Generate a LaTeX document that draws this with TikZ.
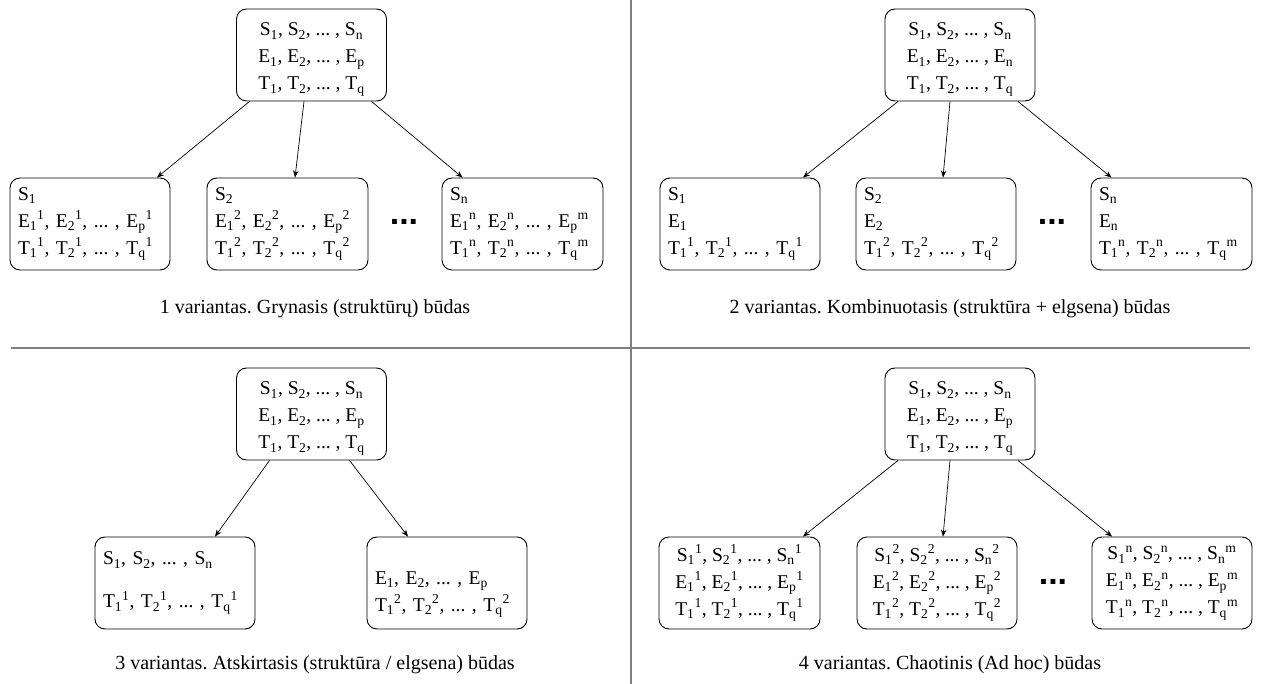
\documentclass[tikz,border=0pt]{standalone}
\usepackage{fontspec}
\setmainfont{Liberation Serif}
\newfontfamily\dotsfont{Liberation Sans}
\usetikzlibrary{arrows.meta,calc}
\frenchspacing
% index helpers: subscript only, subscript followed by superscript
\newcommand\idxl[2]{#1\textsubscript{#2}}
\newcommand\idxlh[3]{#1\textsubscript{#2}\textsuperscript{#3}}
% lowers the block of lines inside a box
\newcommand\lowerby{\rule{0pt}{22pt}}
\newcommand\setall{\lowerby\idxl{S}{1}, \idxl{S}{2}, ... , \idxl{S}{n}\\ \idxl{E}{1}, \idxl{E}{2}, ... , \idxl{E}{p}\\ \idxl{T}{1}, \idxl{T}{2}, ... , \idxl{T}{q}}
\begin{document}
\begin{tikzpicture}[x=1pt,y=-1pt,
  box/.style={draw, rounded corners=10pt, line width=0.9pt, minimum height=92pt,
    inner ysep=0pt, font=\fontsize{19.5}{27}\selectfont},
  topbox/.style={box, align=center, minimum width=150pt, inner xsep=0pt},
  lbox/.style={box, align=left, inner xsep=8pt, text width=#1},
  cbox/.style={box, align=center, minimum width=#1, inner xsep=0pt},
  link/.style={-{Stealth[length=7pt,width=5.5pt]}, line width=0.7pt},
  divider/.style={draw=gray, line width=1.5pt},
  caption/.style={font=\fontsize{20}{24}\selectfont},
  more/.style={font=\fontsize{34}{34}\dotsfont\bfseries, inner sep=0pt}]
\useasboundingbox (0,0) rectangle (1261,684);

% panel dividers
\draw[divider] (631,0) -- (631,684);
\draw[divider] (11,348) -- (1250,348);

% ---- variant 1 ----
\node[topbox] (A0) at (311.5,55) {\setall};
\node[lbox=144pt] (A1) at (90,224) {\idxl{S}{1}\\ \idxlh{E}{1}{1}, \idxlh{E}{2}{1}, ... , \idxlh{E}{p}{1}\\ \idxlh{T}{1}{1}, \idxlh{T}{2}{1}, ... , \idxlh{T}{q}{1}};
\node[lbox=145pt] (A2) at (287.5,224) {\idxl{S}{2}\\ \idxlh{E}{1}{2}, \idxlh{E}{2}{2}, ... , \idxlh{E}{p}{2}\\ \idxlh{T}{1}{2}, \idxlh{T}{2}{2}, ... , \idxlh{T}{q}{2}};
\node[lbox=145pt] (A3) at (522.5,224) {\idxl{S}{n}\\ \idxlh{E}{1}{n}, \idxlh{E}{2}{n}, ... , \idxlh{E}{p}{m}\\ \idxlh{T}{1}{n}, \idxlh{T}{2}{n}, ... , \idxlh{T}{q}{m}};
\node[more] (Ad) at (404,222) {...};
\draw[link] ($(A0.south)+(-62,0)$) -- ($(A1.north)+(67,0)$);
\draw[link] ($(A0.south)+(-7.5,0)$) -- ($(A2.north)+(7.5,0)$);
\draw[link] ($(A0.south)+(60,0)$) -- ($(A3.north)+(-60,0)$);
\node[caption] (Acap) at (315,309) {1 variantas. Grynasis (struktūrų) būdas};

% ---- variant 2 ----
\node[topbox] (B0) at (960,55) {\lowerby\idxl{S}{1}, \idxl{S}{2}, ... , \idxl{S}{n}\\ \idxl{E}{1}, \idxl{E}{2}, ... , \idxl{E}{n}\\ \idxl{T}{1}, \idxl{T}{2}, ... , \idxl{T}{q}};
\node[lbox=144pt] (B1) at (740,224) {\idxl{S}{1}\\ \idxl{E}{1}\\ \idxlh{T}{1}{1}, \idxlh{T}{2}{1}, ... , \idxlh{T}{q}{1}};
\node[lbox=144pt] (B2) at (936,224) {\idxl{S}{2}\\ \idxl{E}{2}\\ \idxlh{T}{1}{2}, \idxlh{T}{2}{2}, ... , \idxlh{T}{q}{2}};
\node[lbox=145pt] (B3) at (1171.5,224) {\idxl{S}{n}\\ \idxl{E}{n}\\ \idxlh{T}{1}{n}, \idxlh{T}{2}{n}, ... , \idxlh{T}{q}{m}};
\node[more] (Bd) at (1052,222) {...};
\draw[link] ($(B0.south)+(-62,0)$) -- ($(B1.north)+(63,0)$);
\draw[link] ($(B0.south)+(-10,0)$) -- ($(B2.north)+(7,0)$);
\draw[link] ($(B0.south)+(58,0)$) -- ($(B3.north)+(-60,0)$);
\node[caption] (Bcap) at (950,309) {2 variantas. Kombinuotasis (struktūra + elgsena) būdas};

% ---- variant 3 ----
\node[topbox] (C0) at (311.5,414) {\setall};
\node[lbox=144pt] (C1) at (175,583) {\idxl{S}{1}, \idxl{S}{2}, ... , \idxl{S}{n}\\[16pt] \idxlh{T}{1}{1}, \idxlh{T}{2}{1}, ... , \idxlh{T}{q}{1}};
\node[lbox=144pt] (C2) at (447,583) {\mbox{}\\[9pt] \idxl{E}{1}, \idxl{E}{2}, ... , \idxl{E}{p}\\ \idxlh{T}{1}{2}, \idxlh{T}{2}{2}, ... , \idxlh{T}{q}{2}};
\draw[link] ($(C0.south)+(-42,0)$) -- ($(C1.north)+(40,0)$);
\draw[link] ($(C0.south)+(38,0)$) -- ($(C2.north)+(-39,0)$);
\node[caption] (Ccap) at (315,665) {3 variantas. Atskirtasis (struktūra / elgsena) būdas};

% ---- variant 4 ----
\node[topbox] (D0) at (960,414) {\setall};
\node[cbox=161pt] (D1) at (739.5,583) {\idxlh{S}{1}{1}, \idxlh{S}{2}{1}, ... , \idxlh{S}{n}{1}\\ \idxlh{E}{1}{1}, \idxlh{E}{2}{1}, ... , \idxlh{E}{p}{1}\\ \idxlh{T}{1}{1}, \idxlh{T}{2}{1}, ... , \idxlh{T}{q}{1}};
\node[cbox=160pt] (D2) at (937,583) {\idxlh{S}{1}{2}, \idxlh{S}{2}{2}, ... , \idxlh{S}{n}{2}\\ \idxlh{E}{1}{2}, \idxlh{E}{2}{2}, ... , \idxlh{E}{p}{2}\\ \idxlh{T}{1}{2}, \idxlh{T}{2}{2}, ... , \idxlh{T}{q}{2}};
\node[cbox=160pt] (D3) at (1172,583) {\idxlh{S}{1}{n}, \idxlh{S}{2}{n}, ... , \idxlh{S}{n}{m}\\ \idxlh{E}{1}{n}, \idxlh{E}{2}{n}, ... , \idxlh{E}{p}{m}\\ \idxlh{T}{1}{n}, \idxlh{T}{2}{n}, ... , \idxlh{T}{q}{m}};
\node[more] (Dd) at (1053,582) {...};
\draw[link] ($(D0.south)+(-62,0)$) -- ($(D1.north)+(63.5,0)$);
\draw[link] ($(D0.south)+(-10,0)$) -- ($(D2.north)+(6,0)$);
\draw[link] ($(D0.south)+(58,0)$) -- ($(D3.north)+(-60,0)$);
\node[caption] (Dcap) at (950,665) {4 variantas. Chaotinis (Ad hoc) būdas};
\end{tikzpicture}
\end{document}
